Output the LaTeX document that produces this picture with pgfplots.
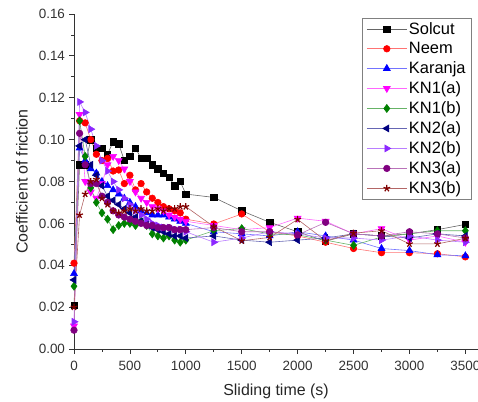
\documentclass[border=0pt]{standalone}
\usepackage{pgfplots}
\pgfplotsset{compat=1.18}
\usepackage{pgfplotstable}
\usepackage{fontspec}
\setmainfont{Liberation Sans}
\pgfplotstableread{
x Sol Neem Kar KNa KNb KNc KNd KNe KNf
0 0.021 0.041 0.036 0.011 0.030 0.033 0.013 0.009 0.020
50 0.088 0.109 0.096 0.112 0.109 0.097 0.118 0.103 0.064
100 0.088 0.108 0.090 0.080 0.092 0.100 0.113 0.088 0.074
150 0.100 0.100 0.086 0.075 0.077 0.088 0.105 0.079 0.080
200 0.096 0.093 0.084 0.072 0.070 0.083 0.097 0.079 0.081
250 0.096 0.090 0.080 0.079 0.065 0.078 0.090 0.073 0.072
300 0.093 0.091 0.078 0.088 0.062 0.073 0.085 0.070 0.069
350 0.099 0.085 0.076 0.092 0.057 0.071 0.080 0.066 0.066
400 0.098 0.0855 0.074 0.090 0.059 0.069 0.076 0.064 0.065
450 0.090 0.079 0.072 0.086 0.060 0.067 0.072 0.063 0.066
500 0.092 0.083 0.070 0.080 0.060 0.065 0.069 0.062 0.067
550 0.096 0.076 0.068 0.075 0.059 0.063 0.066 0.061 0.066
600 0.091 0.079 0.066 0.072 0.061 0.061 0.064 0.060 0.067
650 0.091 0.075 0.065 0.070 0.059 0.060 0.062 0.059 0.066
700 0.088 0.072 0.064 0.068 0.055 0.058 0.060 0.059 0.066
750 0.086 0.070 0.064 0.067 0.054 0.057 0.059 0.058 0.067
800 0.084 0.068 0.064 0.066 0.053 0.056 0.058 0.058 0.066
850 0.082 0.067 0.063 0.064 0.054 0.055 0.058 0.058 0.067
900 0.078 0.066 0.062 0.063 0.052 0.054 0.057 0.057 0.067
950 0.080 0.065 0.061 0.062 0.051 0.054 0.057 0.057 0.068
1000 0.074 0.062 0.060 0.061 0.052 0.053 0.056 0.057 0.068
1250 0.0724 0.0597 0.056 0.059 0.0565 0.054 0.051 0.058 0.0584
1500 0.066 0.0645 0.055 0.057 0.0575 0.052 0.053 0.056 0.0517
1750 0.0605 0.056 0.054 0.058 0.055 0.051 0.056 0.056 0.0533
2000 0.056 0.054 0.056 0.0625 0.0545 0.052 0.055 0.0545 0.0619
2250 0.0515 0.051 0.054 0.061 0.052 0.053 0.053 0.0605 0.0517
2500 0.055 0.048 0.052 0.055 0.0495 0.055 0.053 0.055 0.0553
2750 0.054 0.046 0.048 0.0575 0.0535 0.054 0.052 0.054 0.0565
3000 0.055 0.046 0.047 0.052 0.055 0.053 0.054 0.056 0.0502
3250 0.057 0.0455 0.045 0.054 0.0565 0.055 0.052 0.055 0.0502
3500 0.0595 0.044 0.0445 0.051 0.0565 0.054 0.051 0.053 0.0529
}\data
\definecolor{cSol}{RGB}{0,0,0}
\definecolor{cNeem}{RGB}{255,0,0}
\definecolor{cKar}{RGB}{0,0,255}
\definecolor{cKNa}{RGB}{255,0,255}
\definecolor{cKNb}{RGB}{0,128,0}
\definecolor{cKNc}{RGB}{0,0,128}
\definecolor{cKNd}{RGB}{140,40,255}
\definecolor{cKNe}{RGB}{128,0,128}
\definecolor{cKNf}{RGB}{128,0,0}
\begin{document}
\begin{tikzpicture}
\useasboundingbox (-74bp,-53bp) rectangle (404bp,349bp);
\begin{axis}[
  at={(0,0)}, anchor=south west,
  scale only axis, width=404bp, height=335bp,
  xmin=0, xmax=3613, ymin=0, ymax=0.16,
  axis x line*=bottom, axis y line*=left,
  axis line style={line width=1pt, black!80},
  tick align=outside,
  major tick length=4.5bp, minor tick length=2.5bp,
  tick style={line width=0.8pt, black!80},
  xtick={0,500,...,3500},
  ytick={0,0.02,...,0.161},
  minor x tick num=1, minor y tick num=1,
  scaled y ticks=false,
  /pgf/number format/assume math mode=true,
  xticklabel style={/pgf/number format/1000 sep={}, font=\fontsize{13.5}{15}\selectfont, black!80, yshift=-4bp},
  yticklabel style={/pgf/number format/.cd, fixed, fixed zerofill, precision=2, /tikz/.cd, font=\fontsize{13.5}{15}\selectfont, black!80, xshift=-1bp},
  xlabel={Sliding time (s)}, ylabel={Coefficient of friction},
  label style={font=\fontsize{16}{18}\selectfont, black!85},
  xlabel style={at={(axis description cs:0.5,-0.1254)}, anchor=center},
  ylabel style={at={(axis description cs:-0.1287,0.5)}, anchor=center},
  every axis plot/.append style={line width=0.6pt, mark size=3.3pt},
  legend cell align=left,
  legend style={at={(1,1)}, anchor=north east, xshift=-6bp, yshift=-4bp,
    draw=black!50, line width=0.8pt, font=\fontsize{16.5}{18}\selectfont,
    row sep=2.6bp, inner xsep=4bp, inner ysep=2bp},
  legend image code/.code={\draw[mark repeat=2,mark phase=2] plot coordinates {(0cm,0cm) (0.7cm,0cm) (1.4cm,0cm)};},
]
\addplot[color=cSol!60, mark=square*, mark options={fill=cSol, draw=cSol, mark size=3.2pt}] table[x=x,y=Sol]{\data};
\addlegendentry{Solcut}
\addplot[color=cNeem!55, mark=*, mark options={fill=cNeem, draw=cNeem}] table[x=x,y=Neem]{\data};
\addlegendentry{Neem}
\addplot[color=cKar!55, mark=triangle*, mark options={fill=cKar, draw=cKar, mark size=4pt}] table[x=x,y=Kar]{\data};
\addlegendentry{Karanja}
\addplot[color=cKNa!60, mark=triangle*, mark options={fill=cKNa, draw=cKNa, rotate=180, mark size=4pt}] table[x=x,y=KNa]{\data};
\addlegendentry{KN1(a)}
\addplot[color=cKNb!60, mark=diamond*, mark options={fill=cKNb, draw=cKNb, mark size=4pt}] table[x=x,y=KNb]{\data};
\addlegendentry{KN1(b)}
\addplot[color=cKNc!60, mark=triangle*, mark options={fill=cKNc, draw=cKNc, rotate=90, mark size=4pt}] table[x=x,y=KNc]{\data};
\addlegendentry{KN2(a)}
\addplot[color=cKNd!60, mark=triangle*, mark options={fill=cKNd, draw=cKNd, rotate=-90, mark size=4pt}] table[x=x,y=KNd]{\data};
\addlegendentry{KN2(b)}
\addplot[color=cKNe!55, mark=*, mark options={fill=cKNe, draw=cKNe}] table[x=x,y=KNe]{\data};
\addlegendentry{KN3(a)}
\addplot[color=cKNf!60, mark=star, mark options={fill=cKNf, draw=cKNf, line width=1.2pt, mark size=3.5pt}] table[x=x,y=KNf]{\data};
\addlegendentry{KN3(b)}
\end{axis}
\end{tikzpicture}
\end{document}
